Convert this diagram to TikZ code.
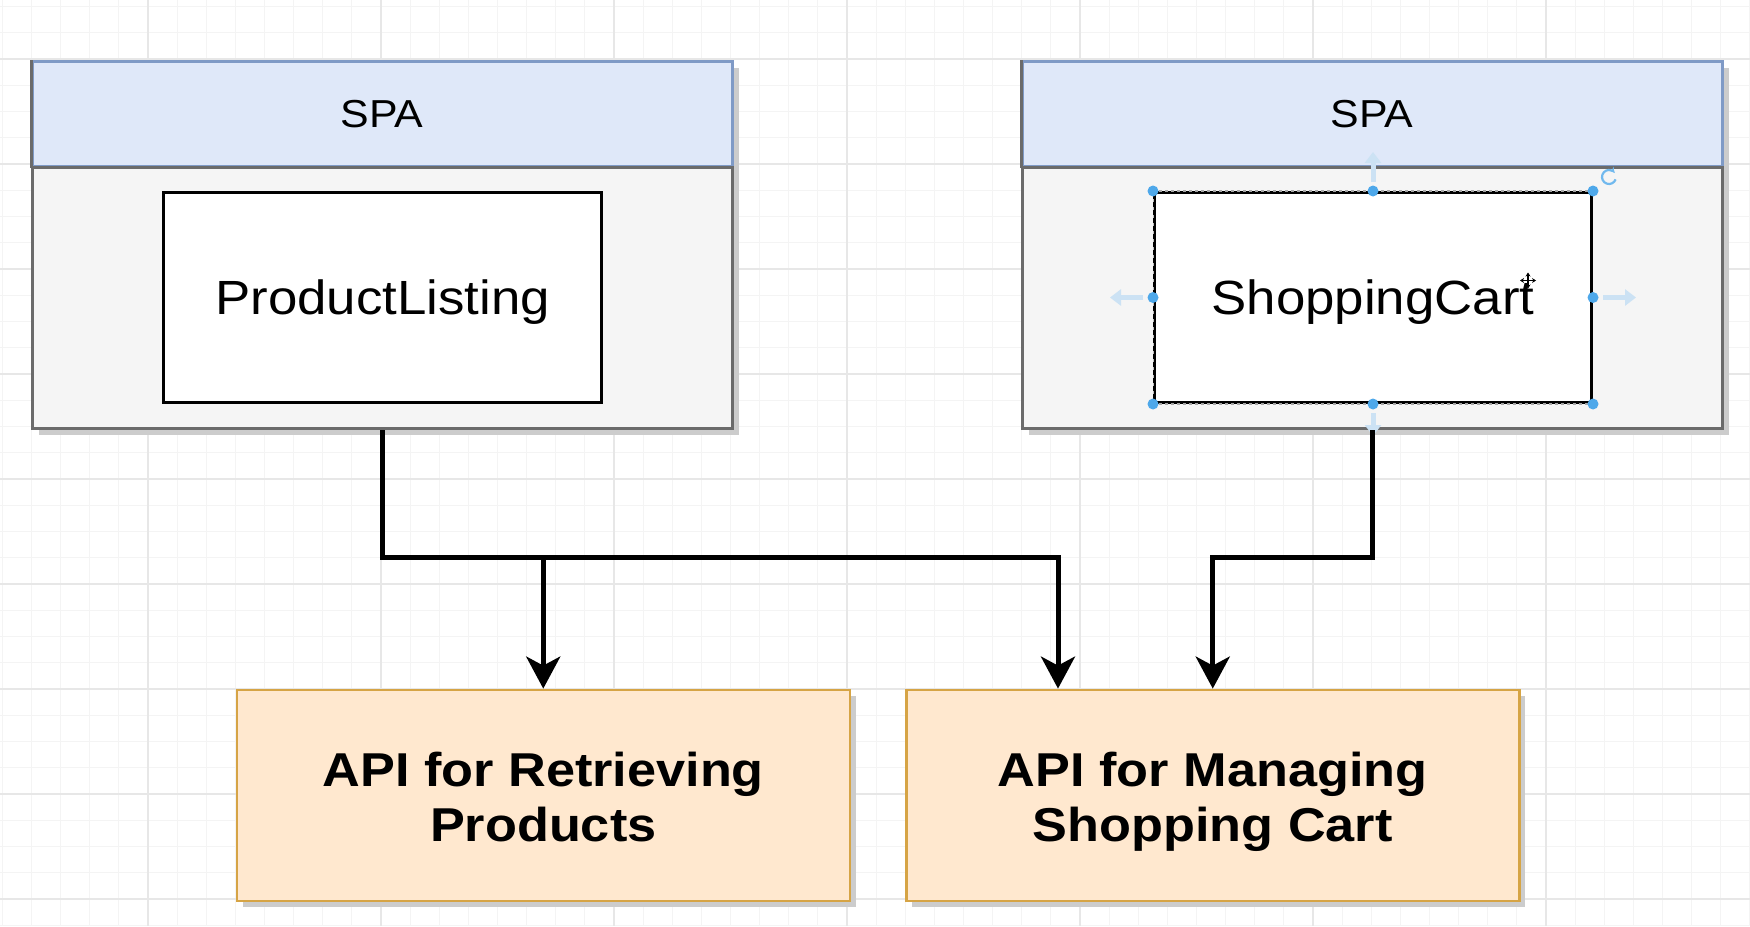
\documentclass[tikz,border=0pt]{standalone}
\usepackage{fontspec}
\setmainfont[FakeStretch=1.1]{Liberation Sans}
\usetikzlibrary{arrows.meta,shadows,calc}
\definecolor{hdrfill}{HTML}{DFE8F9}
\definecolor{hdrdraw}{HTML}{7F9AC6}
\definecolor{bodyfill}{HTML}{F5F5F5}
\definecolor{bodydraw}{HTML}{6B6B6B}
\definecolor{apifill}{HTML}{FFE8CF}
\definecolor{apidraw}{HTML}{D6A445}
\definecolor{selblue}{HTML}{4EA8EA}
\definecolor{hintblue}{HTML}{CCE2F4}
\definecolor{gridminor}{HTML}{F4F4F4}
\definecolor{gridmajor}{HTML}{E7E7E7}
\tikzset{
  spabody/.style={draw=bodydraw, fill=bodyfill, line width=3pt, inner sep=0pt, anchor=north west,
    minimum width=700pt, minimum height=367pt,
    drop shadow={shadow xshift=6pt, shadow yshift=-6pt, fill=black!20, opacity=1}},
  spahead/.style={draw=hdrdraw, fill=hdrfill, line width=2.5pt, inner sep=0pt, anchor=north west,
    minimum width=700pt, minimum height=105pt, font=\fontsize{39}{46}\selectfont},
  compbox/.style={draw=black, fill=white, line width=3pt, inner sep=0pt, anchor=north west,
    minimum width=438pt, minimum height=210pt},
  comptext/.style={font=\fontsize{48}{57}\selectfont, yshift=-5pt},
  apibox/.style={draw=apidraw, fill=apifill, line width=2.5pt, inner sep=0pt, anchor=north west,
    minimum width=613pt, minimum height=211pt,
    drop shadow={shadow xshift=6pt, shadow yshift=-6pt, fill=black!20, opacity=1}},
  apitext/.style={align=center, font=\fontsize{47.5}{55}\selectfont\bfseries, yshift=-7.5pt},
  conn/.style={draw=black, line width=5pt, line join=miter,
    -{Stealth[length=32pt, width=34pt, inset=9pt]}},
  handle/.style={fill=selblue},
  hint/.style={draw=hintblue, line width=5pt, -{Triangle[length=11pt, width=16pt]}},
}
\begin{document}
\begin{tikzpicture}[x=1pt, y=-1pt]
\useasboundingbox (0,0) rectangle (1750,926);
\fill[white] (0,0) rectangle (1750,926);
% grid
\foreach \i in {0,...,60} {\draw[gridminor, line width=1pt] ({2.4+\i*29.125},0) -- ++(0,926);}
\foreach \j in {0,...,35} {\draw[gridminor, line width=1pt] (0,{6.5+\j*26.25}) -- ++(1750,0);}
\foreach \i in {0,...,6} {\draw[gridmajor, line width=1.2pt] ({148+\i*233},0) -- ++(0,926);}
\foreach \j in {0,...,8} {\draw[gridmajor, line width=1.2pt] (0,{59+\j*105}) -- ++(1750,0);}

% left SPA
\node[spabody] (spaL) at (31,60) {};
\node[spahead] (hdrL) at (31,60) {SPA};
\draw[bodydraw, line width=3pt] (hdrL.south west) -- (hdrL.south east);
\draw[bodydraw, line width=3pt] (hdrL.north west) -- (hdrL.south west);
\node[compbox] (pl) at (162,191) {};
\node[comptext] (pltext) at (pl.center) {ProductListing};

% right SPA
\node[spabody] (spaR) at (1021,60) {};
\node[spahead] (hdrR) at (1021,60) {SPA};
\draw[bodydraw, line width=3pt] (hdrR.south west) -- (hdrR.south east);
\draw[bodydraw, line width=3pt] (hdrR.north west) -- (hdrR.south west);
\node[compbox, minimum width=437pt] (sc) at (1153,191) {};
\node[comptext] (sctext) at (sc.center) {ShoppingCart};

% selection overlay on ShoppingCart
\draw[black!35, line width=1.4pt, dash pattern=on 3pt off 3pt] (sc.north west) -- (sc.north east);
\draw[black!35, line width=1.4pt, dash pattern=on 3pt off 3pt] (sc.south west) -- (sc.south east);
\draw[black!25, line width=1pt, dash pattern=on 3pt off 5pt] (sc.north west) -- (sc.south west);
\draw[hint] ($(sc.north)+(0,-9)$) -- ($(sc.north)+(0,-39)$);
\draw[hint] ($(sc.west)+(-10,0)$) -- ($(sc.west)+(-43,0)$);
\draw[hint] ($(sc.east)+(10,0)$) -- ($(sc.east)+(43,0)$);
\draw[hint] ($(sc.south)+(0,9)$) -- ($(sc.south)+(0,32)$);
\foreach \a in {north west,north,north east,west,east,south west,south,south east}
  {\fill[handle] (sc.\a) circle (5.5pt);}
\coordinate (rot) at ($(sc.north east)+(16,-14)$);
\draw[selblue!80, line width=2.2pt, -{Stealth[length=5pt,width=6pt]}] ($(rot)+(20:7)$) arc[start angle=20, end angle=320, radius=7];
\coordinate (mv) at ($(sc.center)+(155,-17)$);
\draw[black, line width=1.3pt, {Stealth[length=4pt,width=5pt]}-{Stealth[length=4pt,width=5pt]}] ($(mv)+(-8,0)$) -- ($(mv)+(8,0)$);
\draw[black, line width=1.3pt, {Stealth[length=4pt,width=5pt]}-{Stealth[length=4pt,width=5pt]}] ($(mv)+(0,-8)$) -- ($(mv)+(0,8)$);

% API boxes
\node[apibox] (apiL) at (235.5,688.6) {};
\node[apitext] (apiLtext) at (apiL.center) {API for Retrieving\strut\\Products\strut};
\node[apibox] (apiR) at (905,688.6) {};
\node[apitext] (apiRtext) at (apiR.center) {API for Managing\strut\\Shopping Cart\strut};

% connectors
\coordinate (jL) at (381,557);
\coordinate (inR) at ($(apiR.north west)+(153,0)$);
\draw[conn] (spaL.south) -- (spaL.south |- jL) -| (inR);
\draw[conn] (spaL.south |- jL) -| (apiL.north);
\draw[conn] (spaR.south) -- (spaR.south |- jL) -| (apiR.north);
\end{tikzpicture}
\end{document}
